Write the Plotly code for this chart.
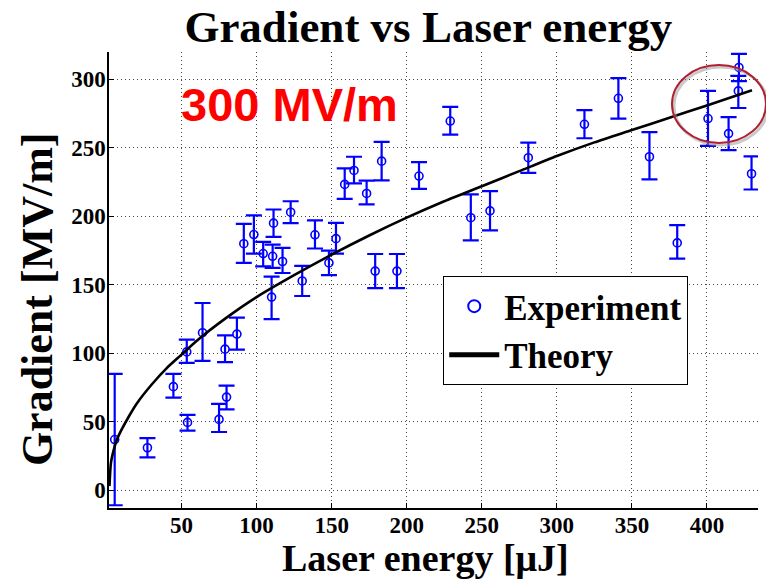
import plotly.graph_objects as go

# Experimental data (Laser energy [uJ], Gradient [MV/m], error up / down)
energy = [5.5, 27.3, 44.6, 53.5, 54.0, 64.0, 75.0, 79.0, 80.0, 86.9,
          91.5, 98.2, 104.4, 110.0, 110.7, 111.3, 117.3, 122.7, 130.4, 138.9,
          148.2, 152.9, 158.7, 164.9, 173.3, 179.0, 183.3, 193.5, 208.2, 229.0,
          242.7, 255.5, 281.0, 318.4, 341.0, 361.7, 380.2, 400.7, 414.4, 420.9,
          421.3, 429.7]
gradient = [37.0, 31.0, 75.6, 101.0, 49.5, 115.0, 51.7, 103.0, 68.0, 114.0,
            180.0, 186.7, 172.8, 141.0, 170.8, 195.0, 167.0, 203.0, 152.8, 186.5,
            166.0, 183.7, 223.3, 233.5, 216.7, 160.0, 240.3, 160.0, 229.4, 269.6,
            199.0, 204.0, 242.8, 267.2, 286.2, 243.5, 180.6, 271.4, 260.4, 291.6,
            308.7, 231.1]
err_up = [48.0, 7.0, 9.4, 9.0, 5.5, 21.7, 11.3, 10.0, 8.4, 12.0,
          14.5, 14.0, 8.5, 15.0, 8.5, 10.0, 10.0, 8.0, 11.0, 10.5,
          9.0, 11.5, 11.7, 10.0, 9.3, 12.5, 14.0, 12.5, 10.2, 10.3,
          17.0, 14.4, 11.0, 10.3, 14.7, 18.0, 13.0, 20.2, 12.0, 11.0,
          10.0, 12.7]
err_down = [48.0, 7.0, 8.0, 8.0, 6.0, 20.6, 9.2, 9.5, 9.0, 11.3,
            14.0, 14.0, 9.3, 16.0, 8.5, 10.0, 8.4, 8.0, 11.0, 10.0,
            9.0, 11.0, 10.5, 9.5, 8.0, 12.5, 14.0, 12.5, 9.4, 10.0,
            16.5, 14.2, 11.0, 10.2, 14.8, 16.5, 11.5, 20.0, 12.0, 12.5,
            10.0, 11.5]

# Theory curve
theory_x = [2, 3, 5, 7, 10, 15, 20, 30, 40, 50, 60, 80, 100, 125, 150, 175,
            200, 225, 250, 275, 300, 325, 350, 375, 400, 430]
theory_y = [3, 20, 30, 37, 44, 54, 63, 77, 89, 99, 109, 126, 141, 157, 172, 186,
            199, 211, 222, 233, 244, 254, 263, 272, 281, 292]

x_ticks = [50, 100, 150, 200, 250, 300, 350, 400]
y_ticks = [0, 50, 100, 150, 200, 250, 300]

SERIF = "Liberation Serif, Times New Roman, serif"
SANS = "Liberation Sans, Arial, sans-serif"

fig = go.Figure()
fig.add_trace(go.Scatter(
    x=energy, y=gradient, mode="markers", name="<b>Experiment</b>",
    marker=dict(symbol="circle-open", size=8, color="#0000FF",
                line=dict(width=1.6, color="#0000FF")),
    error_y=dict(type="data", symmetric=False, array=err_up, arrayminus=err_down,
                 color="#0000FF", thickness=2.2, width=8),
))
fig.add_trace(go.Scatter(
    x=theory_x, y=theory_y, mode="lines", name="<b>Theory</b>",
    line=dict(color="black", width=2.6, shape="spline", smoothing=0.6),
))

axis_common = dict(
    showline=True, linecolor="black", linewidth=1.5, mirror=False,
    ticks="inside", ticklen=5, tickcolor="black", tickwidth=1,
    showgrid=True, gridcolor="#444444", gridwidth=1, griddash="1px,3px",
    zeroline=False, automargin=False,
    tickfont=dict(family=SERIF, size=23, color="black", weight="bold"),
)

fig.update_layout(
    width=766, height=579,
    margin=dict(l=109, r=8, t=52, b=71, autoexpand=False),
    paper_bgcolor="white", plot_bgcolor="white",
    title=dict(text="<b>Gradient vs Laser energy</b>", x=0.492, xref="paper",
               xanchor="center", y=0.955, yref="container", yanchor="middle",
               font=dict(family=SERIF, size=45, color="black")),
    xaxis=dict(range=[1.7, 434], tickvals=x_ticks, ticklabelstandoff=-4, **axis_common),
    yaxis=dict(range=[-13, 320], tickvals=y_ticks, ticklabelstandoff=-3, **axis_common),
    showlegend=True,
    legend=dict(x=0.515, y=0.509, xanchor="left", yanchor="top",
                bgcolor="white", bordercolor="black", borderwidth=1,
                font=dict(family=SERIF, size=35, color="black"),
                itemsizing="constant", tracegroupgap=0, itemwidth=50),
    annotations=[
        dict(text="<b>Laser energy [μJ]</b>", xref="paper", yref="paper",
             x=0.487, y=-0.11, xanchor="center", yanchor="middle", showarrow=False,
             font=dict(family=SERIF, size=38, color="black")),
        dict(text="<b>Gradient [MV/m]</b>", xref="paper", yref="paper",
             x=-0.111, y=0.458, xanchor="center", yanchor="middle", showarrow=False,
             textangle=-90, font=dict(family=SERIF, size=44, color="black")),
        dict(text="<b>300 MV/m</b>", xref="paper", yref="paper",
             x=0.108, y=0.885, xanchor="left", yanchor="middle", showarrow=False,
             font=dict(family=SANS, size=47, color="#FF0000")),
    ],
    shapes=[
        dict(type="circle", xref="paper", yref="paper",
             x0=0.8705, x1=1.0153, y0=0.7960, y1=0.9671,
             line=dict(color="rgba(150,150,150,0.5)", width=3)),
        dict(type="circle", xref="paper", yref="paper",
             x0=0.8675, x1=1.0123, y0=0.8004, y1=0.9715,
             line=dict(color="#B22030", width=2)),
    ],
)

fig.write_html("out.html", config={"displayModeBar": False},
               post_script="document.body.style.margin='0px';document.body.style.padding='0px';")
